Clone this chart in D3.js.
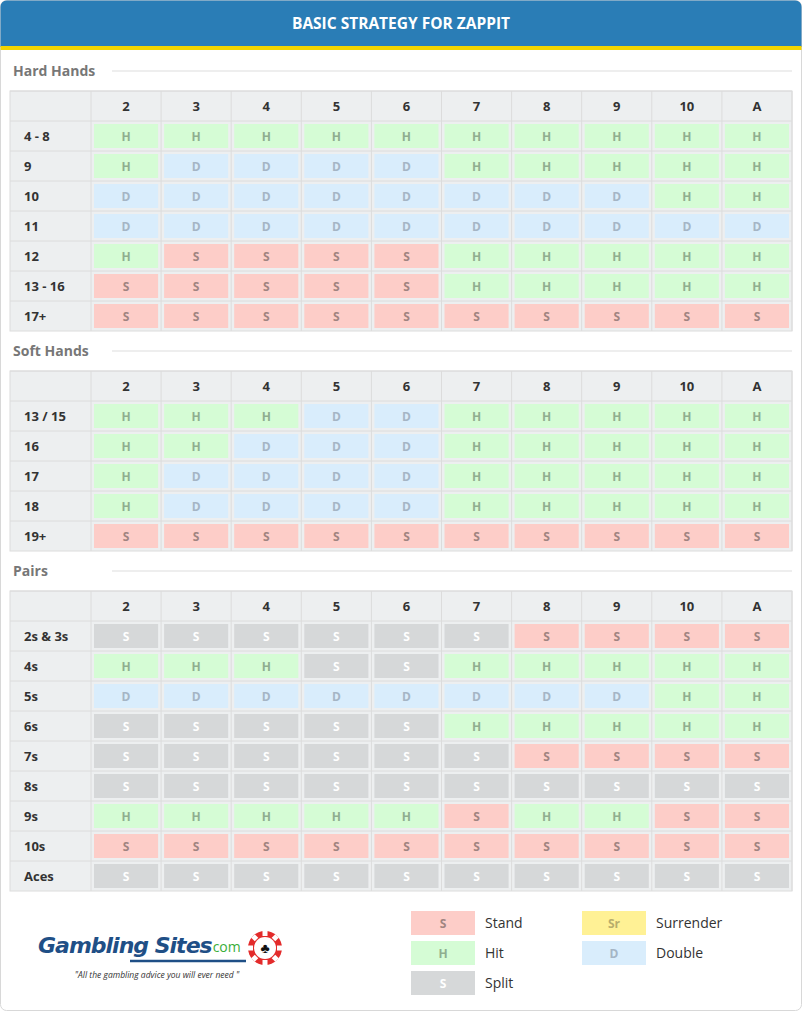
<!DOCTYPE html>
<html><head><meta charset="utf-8">
<script src="https://cdn.jsdelivr.net/npm/d3@7"></script>
<style>body{margin:0;background:#fff}</style>
</head><body>
<svg id="c" width="802" height="1012"></svg>
<script>
// dealer up cards
var dealer = ["2","3","4","5","6","7","8","9","10","A"];
// H = hit, S = stand, D = double, P = split
var hardLabels = ["4 - 8","9","10","11","12","13 - 16","17+"];
var hardMoves = ["HHHHHHHHHH","HDDDDHHHHH","DDDDDDDDHH","DDDDDDDDDD","HSSSSHHHHH","SSSSSHHHHH","SSSSSSSSSS"];
var softLabels = ["13 / 15","16","17","18","19+"];
var softMoves = ["HHHDDHHHHH","HHDDDHHHHH","HDDDDHHHHH","HDDDDHHHHH","SSSSSSSSSS"];
var pairLabels = ["2s & 3s","4s","5s","6s","7s","8s","9s","10s","Aces"];
var pairMoves = ["PPPPPPSSSS","HHHPPHHHHH","DDDDDDDDHH","PPPPPHHHHH","PPPPPPSSSS","PPPPPPPPPP","HHHHHSHHSS","SSSSSSSSSS","PPPPPPPPPP"];
var legendItems = [["S","Stand"],["H","Hit"],["P","Split"],["R","Surrender"],["D","Double"]];

var style = {
  S:{fill:"#fdcdc8",text:"#a08480",t:"S"},
  H:{fill:"#d5fcd5",text:"#8fae8f",t:"H"},
  D:{fill:"#d9edfc",text:"#a5b5c5",t:"D"},
  P:{fill:"#d6d8d9",text:"#ffffff",t:"S"},
  R:{fill:"#fff195",text:"#b8ad6c",t:"Sr"}
};
var font = "'Open Sans', 'DejaVu Sans', sans-serif";
var svg = d3.select("#c");

svg.append("rect").attr("x",0.5).attr("y",0.5).attr("width",801).attr("height",1010).attr("rx",6)
  .attr("fill","#fff").attr("stroke","#d8d8d8");
svg.append("path").attr("d","M0.5,47 V6.5 a6,6 0 0 1 6,-6 H795.5 a6,6 0 0 1 6,6 V47 Z").attr("fill","#2a7db6");
svg.append("rect").attr("x",0.5).attr("y",46).attr("width",801).attr("height",4).attr("fill","#f2d400");
svg.append("text").attr("x",401).attr("y",29).attr("text-anchor","middle").attr("fill","#fff")
  .attr("font-family",font).attr("font-size",15.5).attr("font-weight","bold").text("BASIC STRATEGY FOR ZAPPIT");

var x = d3.scaleBand().domain(dealer).range([91,792]);

function section(title, titleY, labels, moves){
  svg.append("text").attr("x",13).attr("y",titleY+5).attr("fill","#777").attr("font-family",font)
    .attr("font-size",14).attr("font-weight","bold").text(title);
  svg.append("line").attr("x1",112).attr("x2",792).attr("y1",titleY).attr("y2",titleY).attr("stroke","#ddd");
  var top = titleY+20;
  var y = d3.scaleBand().domain(["hdr"].concat(labels)).range([top, top+30*(labels.length+1)]);
  var g = svg.append("g");
  g.append("rect").attr("x",10).attr("y",top).attr("width",782).attr("height",y.range()[1]-top).attr("fill","#edeff0");
  y.domain().forEach(function(r){
    g.append("line").attr("x1",10).attr("x2",792).attr("y1",y(r)).attr("y2",y(r)).attr("stroke","#dcdcdc");
  });
  [91].concat(dealer.map(function(d){return x(d)+x.bandwidth();})).forEach(function(v){
    g.append("line").attr("x1",v).attr("x2",v).attr("y1",top).attr("y2",y.range()[1]).attr("stroke","#dcdcdc");
  });
  g.append("rect").attr("x",10).attr("y",top).attr("width",782).attr("height",y.range()[1]-top)
    .attr("fill","none").attr("stroke","#dcdcdc");
  g.selectAll(".hd").data(dealer).enter().append("text").attr("x",function(d){return x(d)+x.bandwidth()/2;})
    .attr("y",y("hdr")+20).attr("text-anchor","middle").attr("font-family",font).attr("font-size",13)
    .attr("font-weight","bold").attr("fill","#333").text(function(d){return d;});
  labels.forEach(function(l,i){
    g.append("text").attr("x",24).attr("y",y(l)+20).attr("font-family",font).attr("font-size",13)
      .attr("font-weight","bold").attr("fill","#333").text(l);
    moves[i].split("").forEach(function(m,j){
      var s = style[m];
      g.append("rect").attr("x",x(dealer[j])+3).attr("y",y(l)+3).attr("width",x.bandwidth()-6).attr("height",24).attr("fill",s.fill);
      g.append("text").attr("x",x(dealer[j])+x.bandwidth()/2).attr("y",y(l)+19.5).attr("text-anchor","middle")
        .attr("font-family",font).attr("font-size",12).attr("font-weight","bold").attr("fill",s.text).text(s.t);
    });
  });
}
section("Hard Hands",71,hardLabels,hardMoves);
section("Soft Hands",351,softLabels,softMoves);
section("Pairs",571,pairLabels,pairMoves);

// legend
var lpos = [[411,911],[411,941],[411,971],[582,911],[582,941]];
legendItems.forEach(function(it,i){
  var s = style[it[0]], p = lpos[i];
  svg.append("rect").attr("x",p[0]).attr("y",p[1]).attr("width",64).attr("height",24).attr("fill",s.fill);
  svg.append("text").attr("x",p[0]+32).attr("y",p[1]+17).attr("text-anchor","middle").attr("font-family",font)
    .attr("font-size",12).attr("font-weight","bold").attr("fill",s.text).text(s.t);
  svg.append("text").attr("x",p[0]+74).attr("y",p[1]+17).attr("font-family",font).attr("font-size",14)
    .attr("fill","#333").text(it[1]);
});

// logo
var logo = svg.append("text").attr("x",38).attr("y",953).attr("font-family","'DejaVu Sans', sans-serif").attr("font-style","italic")
  .attr("font-weight","bold").attr("font-size",22).attr("fill","#1f4f86").attr("letter-spacing",-1).text("Gambling Sites");
var lw = logo.node().getComputedTextLength();
svg.append("text").attr("x",38+lw+1).attr("y",952).attr("font-family",font).attr("font-size",14).attr("fill","#3aae3a").text("com");
svg.append("line").attr("x1",130).attr("x2",246).attr("y1",961).attr("y2",961).attr("stroke","#1f4f86").attr("stroke-width",2.5);
var chip = svg.append("g").attr("transform","translate(265,948)");
chip.append("circle").attr("r",17).attr("fill","#e32b2b");
chip.append("circle").attr("r",11).attr("fill","#fff");
d3.range(8).forEach(function(k){
  chip.append("rect").attr("x",-2.5).attr("y",-17).attr("width",5).attr("height",5).attr("fill","#fff")
    .attr("transform","rotate("+(k*45)+")");
});
chip.append("text").attr("y",5).attr("text-anchor","middle").attr("font-size",14).attr("fill","#111").text("\u2663");
svg.append("text").attr("x",157).attr("y",978).attr("text-anchor","middle").attr("font-family",font)
  .attr("font-style","italic").attr("font-size",8.5).attr("fill","#333").text("\"All the gambling advice you will ever need \"");
</script>
</body></html>
